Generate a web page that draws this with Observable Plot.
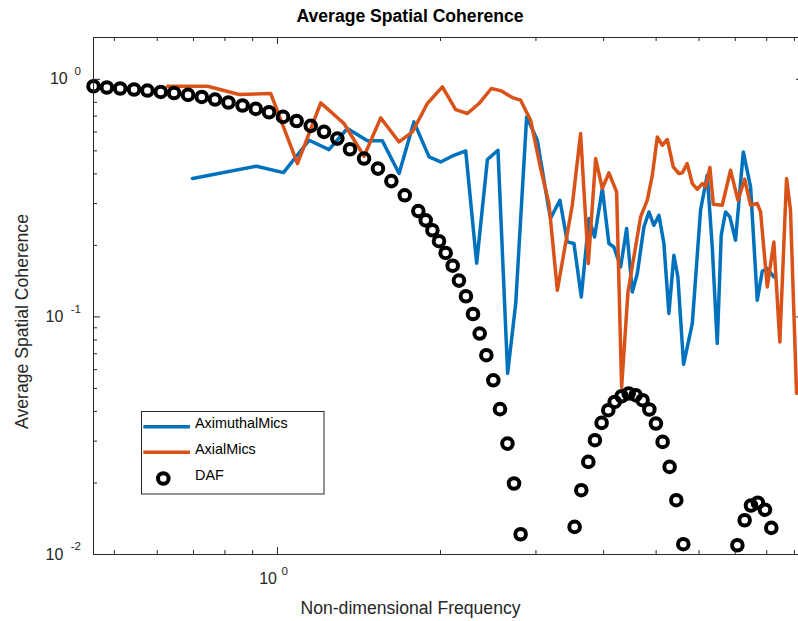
<!DOCTYPE html>
<html>
<head>
<meta charset="utf-8">
<script src="https://cdn.jsdelivr.net/npm/d3@7"></script>
<script src="https://cdn.jsdelivr.net/npm/@observablehq/plot@0.6"></script>
<style>
  html, body { margin: 0; padding: 0; background: #fff; overflow: hidden; }
  #chart { position: relative; width: 798px; height: 621px; overflow: hidden; }
</style>
</head>
<body>
<div id="chart"></div>
<script>
// Directivity (DAF) curve
const dafFreq = [0.4576, 0.4843, 0.5125, 0.5437, 0.5755, 0.609, 0.6445, 0.684, 0.725, 0.767,
  0.812, 0.862, 0.912, 0.965, 1.024, 1.085, 1.152, 1.219, 1.290, 1.361, 1.445, 1.533, 1.623,
  1.718, 1.820, 1.878, 1.932, 1.987, 2.044, 2.106, 2.163, 2.228, 2.296, 2.362, 2.430, 2.503,
  2.575, 2.658, 2.733, 2.811,
  3.536, 3.638, 3.748, 3.855, 3.966, 4.080, 4.192, 4.318, 4.449, 4.583, 4.721, 4.858, 4.996,
  5.140, 5.295, 5.448, 5.612,
  7.062, 7.284, 7.484, 7.703, 7.94, 8.158];
const dafCoherence = [0.935, 0.924, 0.915, 0.906, 0.897, 0.885, 0.876, 0.860, 0.843, 0.822,
  0.799, 0.776, 0.751, 0.727, 0.695, 0.668, 0.637, 0.601, 0.563, 0.508, 0.464, 0.421, 0.373,
  0.325, 0.279, 0.255, 0.2317, 0.2083, 0.1859, 0.1643, 0.1422, 0.1222, 0.1029, 0.0851, 0.0690,
  0.0541, 0.0409, 0.0293, 0.0199, 0.01217,
  0.01307, 0.01865, 0.02453, 0.03028, 0.0358, 0.0405, 0.04387, 0.04637, 0.0476, 0.04683,
  0.04461, 0.04077, 0.03558, 0.02978, 0.02337, 0.01693, 0.01105,
  0.01094, 0.01394, 0.01608, 0.01652, 0.01544, 0.01294];

// Azimuthal microphone pairs
const azimuthalFreq = [0.697, 0.915, 1.026, 1.144, 1.245, 1.346, 1.466, 1.562, 1.677, 1.786,
  1.905, 2.001, 2.117, 2.226, 2.332, 2.441, 2.553, 2.660, 2.753, 2.884, 3.018, 3.171, 3.193,
  3.322, 3.428, 3.526, 3.638, 3.758, 3.849, 3.978, 4.091, 4.178, 4.300, 4.411, 4.519, 4.616,
  4.747, 4.849, 4.953, 5.060, 5.168, 5.279, 5.392, 5.484, 5.619, 5.831, 6.039, 6.214, 6.347,
  6.483, 6.594, 6.716, 6.840, 7.008, 7.242, 7.470, 7.685, 7.850, 8.019, 8.246];
const azimuthalCoherence = [0.3825, 0.431, 0.405, 0.554, 0.506, 0.621, 0.551, 0.551, 0.4015,
  0.662, 0.4715, 0.449, 0.479, 0.4995, 0.1683, 0.4597, 0.503, 0.0579, 0.1139, 0.695, 0.554,
  0.2813, 0.2603, 0.3099, 0.2069, 0.2037, 0.1214, 0.2595, 0.2172, 0.347, 0.2037, 0.197, 0.1623,
  0.2355, 0.1274, 0.1523, 0.2392, 0.2766, 0.2431, 0.2679, 0.2037, 0.1034, 0.1818, 0.1474,
  0.0632, 0.0938, 0.2813, 0.3949, 0.197, 0.0773, 0.2208, 0.2766, 0.2635, 0.2103, 0.4949,
  0.3526, 0.1175, 0.1557, 0.1598, 0.1474];

// Axial microphone pairs
const axialFreq = [0.627, 0.743, 0.850, 0.972, 1.089, 1.202, 1.327, 1.445, 1.551, 1.677,
  1.775, 1.891, 2.016, 2.133, 2.242, 2.355, 2.482, 2.590, 2.714, 2.811, 2.933, 3.061, 3.171,
  3.286, 3.501, 3.627, 3.748, 3.867, 3.978, 4.091, 4.227, 4.318, 4.436, 4.681, 4.816, 4.920,
  5.025, 5.132, 5.244, 5.378, 5.508, 5.588, 5.706, 5.831, 5.956, 6.084, 6.170, 6.284, 6.375,
  6.622, 6.860, 7.079, 7.284, 7.470, 7.685, 7.794, 8.019, 8.246, 8.459, 8.704, 8.851, 9.081];
const axialCoherence = [0.935, 0.935, 0.863, 0.871, 0.442, 0.796, 0.652, 0.4747, 0.688, 0.545,
  0.601, 0.791, 0.929, 0.746, 0.718, 0.791, 0.915, 0.894, 0.838, 0.817, 0.673, 0.421, 0.300,
  0.1295, 0.2952, 0.591, 0.1678, 0.464, 0.347, 0.404, 0.336, 0.0506, 0.1274, 0.2635, 0.310,
  0.395, 0.572, 0.528, 0.558, 0.428, 0.4015, 0.404, 0.442, 0.3642, 0.3447, 0.3642, 0.3526,
  0.4254, 0.298, 0.2952, 0.4144, 0.310, 0.3798, 0.2952, 0.300, 0.2766, 0.1337, 0.2069, 0.0785,
  0.3825, 0.2813, 0.0477];

const seriesNames = ["AximuthalMics", "AxialMics", "DAF"];
const seriesColors = ["#0072BD", "#D95319", "#000000"];

// Axes
const xDomain = [0.4576, 9.354];
const yDomain = [0.01, 1.5];
const xMajorTicks = [1];
const xTickExponents = ["0"];
const xMinorTicks = [0.5, 0.6, 0.7, 0.8, 0.9, 2, 3, 4, 5, 6, 7, 8, 9];
const yMajorTicks = [0.01, 0.1, 1];
const yTickExponents = ["-2", "-1", "0"];
const yMinorTicks = [0.02, 0.03, 0.04, 0.05, 0.06, 0.07, 0.08, 0.09,
  0.2, 0.3, 0.4, 0.5, 0.6, 0.7, 0.8, 0.9];

const titleText = "Average Spatial Coherence";
const xLabelText = "Non-dimensional Frequency";
const yLabelText = "Average Spatial Coherence";

// Layout
const W = 803, H = 621;
const M = {left: 93, right: 0, top: 37, bottom: 67};
const FW = W - M.left - M.right, FH = H - M.top - M.bottom;
const axisColor = "#262626";
const font = "'Liberation Sans', Arial, Helvetica, sans-serif";

const rows = (xs, ys) => xs.map((x, i) => ({x, y: ys[i]}));
const azimuthal = rows(azimuthalFreq, azimuthalCoherence);
const axial = rows(axialFreq, axialCoherence);
const daf = rows(dafFreq, dafCoherence);

// inward ticks on all four sides of the box
const tickMarks = (values, len, axis) => {
  if (axis === "x") return [
    Plot.tickX(values, {x: d => d, insetTop: FH - len, stroke: axisColor, strokeWidth: 1}),
    Plot.tickX(values, {x: d => d, insetBottom: FH - len, stroke: axisColor, strokeWidth: 1})
  ];
  return [
    Plot.tickY(values, {y: d => d, insetRight: FW - len, stroke: axisColor, strokeWidth: 1}),
    Plot.tickY(values, {y: d => d, insetLeft: FW - len, stroke: axisColor, strokeWidth: 1})
  ];
};

// tick labels: "10" followed by a raised exponent
const yTickLabels = yMajorTicks.flatMap((v, i) => [
  Plot.text([v], {y: d => d, frameAnchor: "left", lineAnchor: "middle", text: () => "10", textAnchor: "end",
    dx: yTickExponents[i].length > 1 ? -30.2 : -25.8, fontSize: 16, fill: axisColor}),
  Plot.text([v], {y: d => d, frameAnchor: "left", lineAnchor: "middle", text: () => yTickExponents[i], textAnchor: "end",
    dx: -12.5, dy: -8, fontSize: 11.6, fill: axisColor})
]);
const xTickLabels = xMajorTicks.flatMap((v, i) => [
  Plot.text([v], {x: d => d, frameAnchor: "bottom", lineAnchor: "middle", text: () => "10", textAnchor: "end",
    dx: -0.5, dy: 24, fontSize: 16, fill: axisColor}),
  Plot.text([v], {x: d => d, frameAnchor: "bottom", lineAnchor: "middle", text: () => xTickExponents[i], textAnchor: "start",
    dx: 4, dy: 17, fontSize: 11.6, fill: axisColor})
]);

const chart = Plot.plot({
  width: W, height: H,
  marginLeft: M.left, marginRight: M.right, marginTop: M.top, marginBottom: M.bottom,
  style: {fontFamily: font, background: "white", maxWidth: "none", overflow: "visible"},
  x: {type: "log", domain: xDomain, axis: null},
  y: {type: "log", domain: yDomain, axis: null},
  marks: [
    Plot.line(azimuthal, {x: "x", y: "y", stroke: seriesColors[0], strokeWidth: 3.5, strokeLinejoin: "round"}),
    Plot.line(axial, {x: "x", y: "y", stroke: seriesColors[1], strokeWidth: 3.5, strokeLinejoin: "round"}),
    Plot.dot(daf, {x: "x", y: "y", r: 5.3, stroke: seriesColors[2], strokeWidth: 4, fill: "none"}),
    Plot.frame({stroke: axisColor, strokeWidth: 1}),
    ...tickMarks(xMinorTicks, 4, "x"),
    ...tickMarks(xMajorTicks, 7, "x"),
    ...tickMarks(yMinorTicks, 4, "y"),
    ...tickMarks(yMajorTicks, 7, "y"),
    ...yTickLabels,
    ...xTickLabels,
    Plot.text([titleText], {frameAnchor: "top-left", lineAnchor: "middle", dx: 316.5, dy: -21.6,
      textAnchor: "middle", fontSize: 17.6, fontWeight: "bold", fill: "#000"}),
    Plot.text([xLabelText], {frameAnchor: "bottom-left", lineAnchor: "middle", dx: 317, dy: 53.5,
      textAnchor: "middle", fontSize: 17.6, fill: axisColor}),
    Plot.text([yLabelText], {frameAnchor: "left", lineAnchor: "middle", dx: -71, dy: 25.5, rotate: -90,
      textAnchor: "middle", fontSize: 17.6, fill: axisColor})
  ]
});
document.getElementById("chart").appendChild(chart);

// Legend box in the lower-left of the axes
const svg = d3.select(chart);
const legend = svg.append("g").attr("transform", "translate(141.5,411.5)");
legend.append("rect").attr("width", 182.5).attr("height", 82.5)
  .attr("fill", "white").attr("stroke", axisColor).attr("stroke-width", 1);
seriesNames.forEach((name, i) => {
  const cy = 15.2 + i * 25.6;
  if (i < 2) {
    legend.append("line").attr("x1", 1.8).attr("x2", 48.5).attr("y1", cy).attr("y2", cy)
      .attr("stroke", seriesColors[i]).attr("stroke-width", 3.5);
  } else {
    legend.append("circle").attr("cx", 21.8).attr("cy", cy + 0.6).attr("r", 5.3)
      .attr("fill", "none").attr("stroke", seriesColors[i]).attr("stroke-width", 4);
  }
  legend.append("text").attr("x", 53.5).attr("y", cy + 1.6)
    .attr("font-family", font).attr("font-size", 14.4).attr("fill", "#000")
    .attr("text-anchor", "start")
    .text(name);
});
</script>
</body>
</html>
